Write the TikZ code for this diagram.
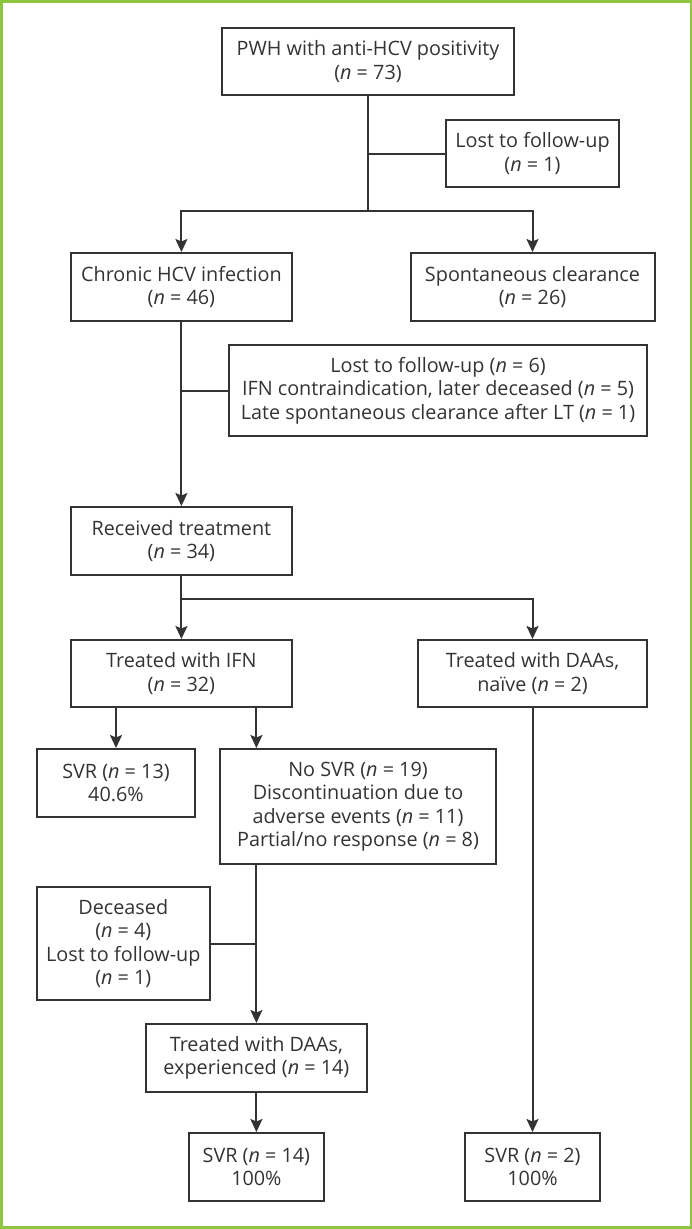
\documentclass[tikz,border=0pt]{standalone}
\usepackage{fontspec}
\setmainfont{Open Sans}
\usetikzlibrary{arrows.meta}
\definecolor{ink}{HTML}{333333}
\definecolor{frame}{HTML}{8DC63F}
\tikzset{
  box/.style={draw=ink, line width=2pt, text=ink, align=center, inner sep=0pt,
    font=\fontsize{19.8}{23.5}\selectfont},
  conn/.style={draw=ink, line width=2pt},
  arr/.style={conn, -{Stealth[length=13pt,width=12pt,inset=2.5pt]}}
}
\newcommand{\nn}[1]{(\textit{n} = #1)}
\begin{document}
\begin{tikzpicture}[x=1pt,y=-1pt]
\useasboundingbox (0,0) rectangle (692,1229);
\draw[frame, line width=2.5pt] (1.25,1.25) rectangle (690.75,1227.5);

\node[box, minimum width=292pt, minimum height=67pt] (top) at (368,61.5) {PWH with anti-HCV positivity\\\nn{73}};
\node[box, minimum width=173.5pt, minimum height=67pt] (lost1) at (532.5,153.5) {Lost to follow-up\\\nn{1}};
\node[box, minimum width=220.7pt, minimum height=68pt] (chronic) at (181.4,287) {Chronic HCV infection\\\nn{46}};
\node[box, minimum width=244pt, minimum height=68pt] (spont) at (532.5,287) {Spontaneous clearance\\\nn{26}};
\node[box, minimum width=418pt, minimum height=91pt] (lost6) at (438,390.5) {Lost to follow-up \nn{6}\\IFN contraindication, later deceased \nn{5}\\Late spontaneous clearance after LT \nn{1}};
\node[box, minimum width=220.7pt, minimum height=68pt] (received) at (181.4,541) {Received treatment\\\nn{34}};
\node[box, minimum width=220.7pt, minimum height=67pt] (ifn) at (181.4,673.5) {Treated with IFN\\\nn{32}};
\node[box, minimum width=228.6pt, minimum height=67pt] (naive) at (532.5,673.5) {Treated with DAAs,\\naïve \nn{2}};
\node[box, minimum width=158pt, minimum height=68pt] (svr13) at (116,783) {SVR \nn{13}\\40.6\%};
\node[box, minimum width=276.3pt, minimum height=115pt] (nosvr) at (358,806.5) {No SVR \nn{19}\\Discontinuation due to\\adverse events \nn{11}\\Partial/no response \nn{8}};
\node[box, minimum width=172.6pt, minimum height=113pt] (dec) at (123.3,943.5) {Deceased\\\nn{4}\\Lost to follow-up\\\nn{1}};
\node[box, minimum width=220.7pt, minimum height=68pt] (exp) at (256.4,1058) {Treated with DAAs,\\experienced \nn{14}};
\node[box, minimum width=134.2pt, minimum height=68pt] (svr14) at (256.4,1167) {SVR \nn{14}\\100\%};
\node[box, minimum width=135pt, minimum height=68pt] (svr2) at (532.5,1167) {SVR \nn{2}\\100\%};

\coordinate (j1) at (368,211);
\coordinate (j2) at (181.4,599);

\draw[conn] (top.south) -- (j1);
\draw[conn] (top.south |- lost1.west) -- (lost1.west);
\draw[arr] (j1) -| (chronic.north);
\draw[arr] (j1) -| (spont.north);

\draw[arr] (chronic.south) -- (received.north);
\draw[conn] (chronic.south |- lost6.west) -- (lost6.west);

\draw[conn] (received.south) -- (j2);
\draw[arr] (j2) -- (ifn.north);
\draw[arr] (j2) -| (naive.north);

\draw[arr] (ifn.south -| svr13.north) -- (svr13.north);
\draw[arr] (ifn.south -| exp.north) -- (nosvr.north -| exp.north);

\draw[arr] (nosvr.south -| exp.north) -- (exp.north);
\draw[conn] (dec.east) -- (dec.east -| exp.north);

\draw[arr] (exp.south) -- (svr14.north);
\draw[arr] (naive.south) -- (svr2.north);
\end{tikzpicture}
\end{document}
